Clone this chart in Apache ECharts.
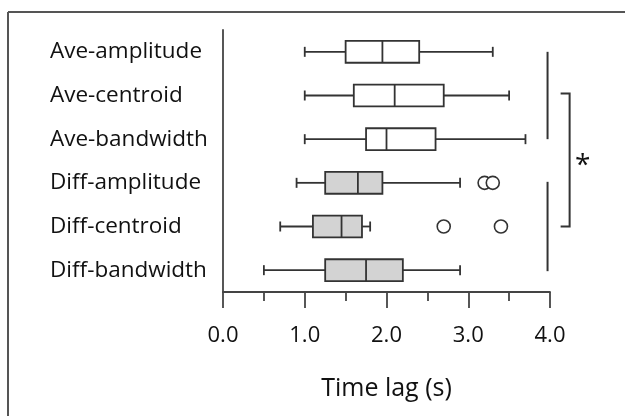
<!DOCTYPE html>
<html>
<head>
<meta charset="utf-8">
<script src="https://cdn.jsdelivr.net/npm/echarts@6/dist/echarts.min.js"></script>
<style>
html,body{margin:0;padding:0;background:#fff;}
#chart{width:625px;height:416px;}
</style>
</head>
<body>
<div id="chart"></div>
<script>
// ---- data ----
var categories = ['Ave-amplitude','Ave-centroid','Ave-bandwidth','Diff-amplitude','Diff-centroid','Diff-bandwidth'];
var whiskerLow  = [1.0, 1.0, 1.0, 0.9, 0.7, 0.5];
var q1          = [1.5, 1.6, 1.75, 1.25, 1.1, 1.25];
var median      = [1.95, 2.1, 2.0, 1.65, 1.45, 1.75];
var q3          = [2.4, 2.7, 2.6, 1.95, 1.7, 2.2];
var whiskerHigh = [3.3, 3.5, 3.7, 2.9, 1.8, 2.9];
var outlierCat  = [3, 3, 4, 4];
var outlierVal  = [3.2, 3.3, 2.7, 3.4];
var xTicks = [0, 1, 2, 3, 4];
var axisTitle = 'Time lag (s)';
var sigLabel = '*';

var FONT = '"Open Sans", "DejaVu Sans", sans-serif';
var INK = '#333';

var boxData = categories.map(function (c, i) {
  return [i, whiskerLow[i], q1[i], median[i], q3[i], whiskerHigh[i]];
});
var outData = outlierCat.map(function (c, i) { return [outlierVal[i], c]; });

function renderBox(params, api) {
  var ci = api.value(0);
  var lo = api.coord([api.value(1), ci]);
  var b1 = api.coord([api.value(2), ci]);
  var md = api.coord([api.value(3), ci]);
  var b3 = api.coord([api.value(4), ci]);
  var hi = api.coord([api.value(5), ci]);
  var band = api.size([0, 1])[1];
  var h = band * 0.5;
  var cap = 5;
  var y = lo[1];
  var fill = categories[ci].indexOf('Diff') === 0 ? '#d3d3d3' : '#ffffff';
  var ls = { stroke: INK, lineWidth: 1.8, fill: null };
  return {
    type: 'group',
    children: [
      { type: 'line', shape: { x1: lo[0], y1: y, x2: b1[0], y2: y }, style: ls },
      { type: 'line', shape: { x1: b3[0], y1: y, x2: hi[0], y2: y }, style: ls },
      { type: 'line', shape: { x1: lo[0], y1: y - cap, x2: lo[0], y2: y + cap }, style: ls },
      { type: 'line', shape: { x1: hi[0], y1: y - cap, x2: hi[0], y2: y + cap }, style: ls },
      { type: 'rect', shape: { x: b1[0], y: y - h / 2, width: b3[0] - b1[0], height: h },
        style: { fill: fill, stroke: INK, lineWidth: 1.8 } },
      { type: 'line', shape: { x1: md[0], y1: y - h / 2, x2: md[0], y2: y + h / 2 }, style: ls }
    ]
  };
}

var chart = echarts.init(document.getElementById('chart'));
chart.setOption({
  animation: false,
  backgroundColor: '#fff',
  grid: { left: 223, right: 75, top: 30, bottom: 124, containLabel: false },
  xAxis: {
    type: 'value', min: 0, max: 4, interval: 1,
    name: axisTitle, nameLocation: 'middle', nameGap: 84,
    nameTextStyle: { fontFamily: FONT, fontSize: 25, color: '#111' },
    axisLine: { show: true, lineStyle: { color: '#444', width: 1.8 } },
    axisTick: { show: true, inside: false, length: 16, lineStyle: { color: '#444', width: 1.8 } },
    minorTick: { show: true, splitNumber: 2, length: 9, lineStyle: { color: '#444', width: 1.8 } },
    splitLine: { show: false },
    axisLabel: {
      margin: 33, fontFamily: FONT, fontSize: 22, color: '#111',
      formatter: function (v) { return xTicks.indexOf(v) >= 0 ? v.toFixed(1) : ''; }
    }
  },
  yAxis: {
    type: 'category', data: categories, inverse: true,
    axisLine: { show: true, onZero: false, lineStyle: { color: '#444', width: 1.8 } },
    axisTick: { show: false },
    splitLine: { show: false },
    axisLabel: { align: 'left', margin: 173, fontFamily: FONT, fontSize: 22.5, color: '#111',
      padding: [8, 0, 0, 0] }
  },
  series: [
    {
      type: 'custom', name: 'box', renderItem: renderBox,
      encode: { y: 0, x: [1, 2, 3, 4, 5] },
      data: boxData, z: 2
    },
    {
      type: 'scatter', name: 'outliers', data: outData,
      symbol: 'circle', symbolSize: 13,
      itemStyle: { color: '#fff', borderColor: INK, borderWidth: 1.6, opacity: 1 },
      z: 3
    }
  ]
});

// significance annotations (placed via the chart's own scales)
function px(v, c) { return chart.convertToPixel({ gridIndex: 0 }, [v, c]); }
var lineV = 3.97, brIn = 4.13, brOut = 4.24;
var a0 = px(lineV, 0), a2 = px(lineV, 2), d3 = px(lineV, 3), d5 = px(lineV, 5);
var t1 = px(brIn, 1), t4 = px(brIn, 4), o1 = px(brOut, 1), o4 = px(brOut, 4);
var sg = { stroke: '#333', lineWidth: 2 };
chart.setOption({
  graphic: [
    { type: 'line', shape: { x1: 8, y1: 12, x2: 625, y2: 12 }, style: { stroke: '#555', lineWidth: 2 } },
    { type: 'line', shape: { x1: 8, y1: 12, x2: 8, y2: 416 }, style: { stroke: '#555', lineWidth: 2 } },
    { type: 'line', shape: { x1: a0[0], y1: a0[1], x2: a2[0], y2: a2[1] }, style: sg },
    { type: 'line', shape: { x1: d3[0], y1: d3[1] - 1, x2: d5[0], y2: d5[1] + 1 }, style: sg },
    { type: 'polyline', shape: { points: [[t1[0], t1[1] - 2], [o1[0], o1[1] - 2], [o4[0], o4[1]], [t4[0], t4[1]]] }, style: { stroke: '#333', lineWidth: 2, fill: null } },
    { type: 'text', x: o1[0] + 13, y: (o1[1] + o4[1]) / 2 + 5,
      style: { text: sigLabel, font: '28px ' + FONT, fill: '#111', align: 'center', verticalAlign: 'middle' } }
  ]
});
</script>
</body>
</html>
